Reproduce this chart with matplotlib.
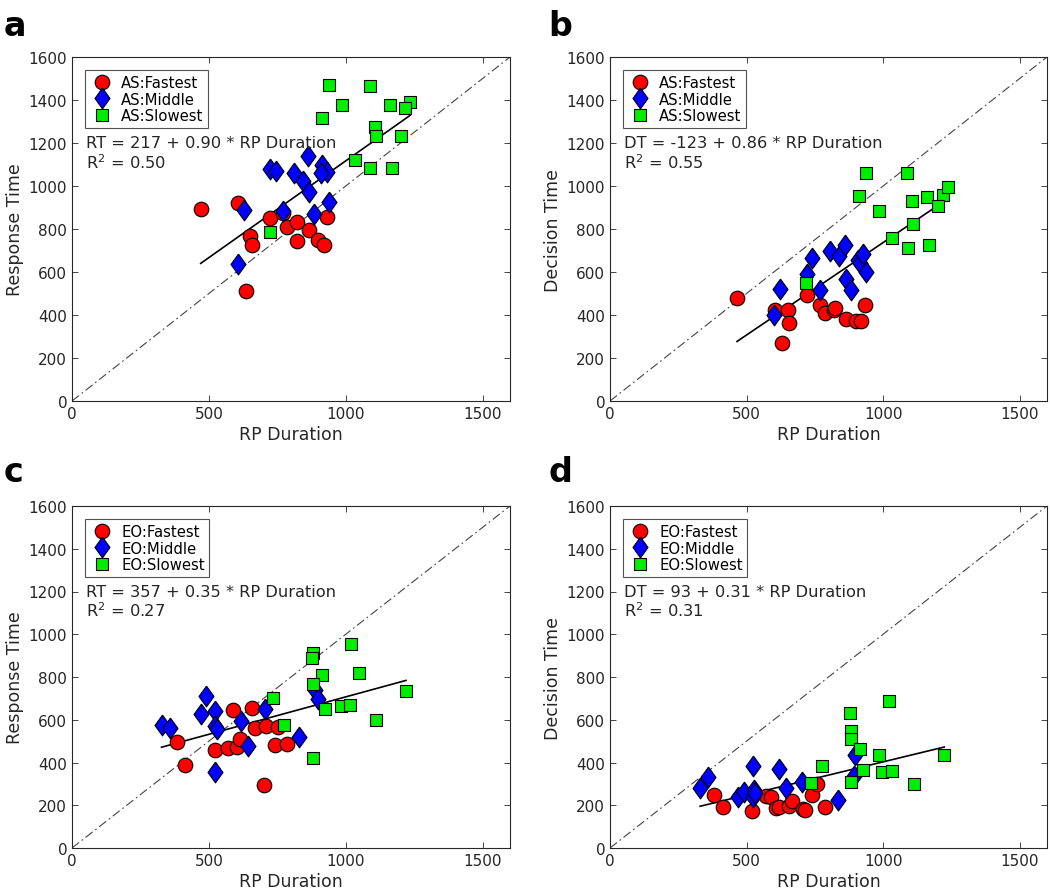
import matplotlib
matplotlib.use('Agg')
import matplotlib.pyplot as plt
import numpy as np

# panel a: AS, response time
a_fast_x = [470, 607, 651, 657, 724, 770, 787, 821, 821, 866, 900, 921, 933, 636]
a_fast_y = [892, 919, 768, 726, 849, 874, 807, 833, 742, 796, 748, 726, 854, 512]
a_mid_x = [724, 746, 811, 861, 914, 930, 908, 845, 867, 939, 885, 772, 627, 605]
a_mid_y = [1077, 1071, 1062, 1138, 1099, 1066, 1060, 1024, 973, 927, 872, 882, 888, 636]
a_slow_x = [939, 1090, 988, 1160, 1235, 1218, 914, 1107, 1111, 1202, 1034, 1090, 1168, 722]
a_slow_y = [1470, 1465, 1377, 1377, 1392, 1363, 1316, 1274, 1234, 1231, 1122, 1082, 1086, 788]

# panel b: AS, decision time
b_fast_x = [465, 603, 650, 655, 630, 723, 768, 786, 820, 822, 863, 901, 920, 932]
b_fast_y = [478, 424, 424, 365, 272, 494, 445, 411, 424, 432, 383, 372, 372, 447]
b_mid_x = [601, 624, 721, 741, 768, 807, 840, 859, 863, 883, 908, 916, 928, 936]
b_mid_y = [399, 523, 590, 667, 516, 700, 674, 725, 567, 516, 655, 641, 683, 598]
b_slow_x = [936, 1088, 911, 984, 1106, 1159, 1218, 1236, 1202, 1108, 1033, 1090, 1169, 719]
b_slow_y = [1062, 1062, 955, 882, 930, 950, 958, 997, 908, 823, 756, 710, 727, 548]

# panel c: EO, response time
c_fast_x = [383, 414, 521, 570, 603, 615, 587, 658, 667, 710, 754, 740, 785, 703]
c_fast_y = [496, 388, 460, 470, 473, 509, 647, 656, 561, 571, 566, 481, 488, 295]
c_mid_x = [327, 358, 490, 470, 524, 524, 530, 619, 704, 642, 831, 889, 898, 522]
c_mid_y = [574, 561, 710, 625, 639, 571, 555, 594, 648, 478, 519, 740, 698, 357]
c_slow_x = [879, 878, 1021, 914, 1047, 879, 736, 1220, 924, 982, 1015, 1109, 776, 882]
c_slow_y = [910, 887, 953, 809, 819, 767, 701, 733, 651, 664, 667, 598, 574, 419]

# panel d: EO, decision time
d_fast_x = [381, 415, 521, 570, 589, 606, 618, 656, 668, 707, 713, 741, 758, 786]
d_fast_y = [248, 191, 171, 243, 240, 189, 194, 197, 220, 183, 178, 248, 299, 191]
d_mid_x = [330, 358, 470, 491, 522, 528, 524, 530, 619, 644, 704, 835, 893, 898]
d_mid_y = [279, 332, 240, 260, 384, 271, 240, 256, 369, 279, 310, 225, 338, 434]
d_slow_x = [880, 1021, 883, 883, 916, 984, 1224, 777, 926, 995, 1032, 883, 1114, 737]
d_slow_y = [633, 687, 546, 509, 465, 437, 437, 383, 364, 357, 361, 310, 299, 302]

panels = [
    ('a', 'AS', 'Response Time', 'RT', 217, 0.90, 0.50,
     a_fast_x, a_fast_y, a_mid_x, a_mid_y, a_slow_x, a_slow_y),
    ('b', 'AS', 'Decision Time', 'DT', -123, 0.86, 0.55,
     b_fast_x, b_fast_y, b_mid_x, b_mid_y, b_slow_x, b_slow_y),
    ('c', 'EO', 'Response Time', 'RT', 357, 0.35, 0.27,
     c_fast_x, c_fast_y, c_mid_x, c_mid_y, c_slow_x, c_slow_y),
    ('d', 'EO', 'Decision Time', 'DT', 93, 0.31, 0.31,
     d_fast_x, d_fast_y, d_mid_x, d_mid_y, d_slow_x, d_slow_y),
]

# matlab-like diamond (a bit wider than mpl 'd')
diamond = [(0, 1), (0.72, 0), (0, -1), (-0.72, 0), (0, 1)]

W, H = 1050, 895
fig = plt.figure(figsize=(W / 100, H / 100), dpi=100)

# pixel boxes: left, right, top, bottom
boxes = [(72, 510, 58, 402), (610, 1047, 58, 402),
         (72, 510, 507, 849), (610, 1047, 507, 849)]
letter_pos = [(4, 36), (548, 36), (4, 482), (548, 482)]

for (letter, cond, ylabel, short, b0, b1, r2,
     fx, fy, mx, my, sx, sy), box, lp in zip(panels, boxes, letter_pos):
    l, r, t, b = box
    ax = fig.add_axes([l / W, 1 - b / H, (r - l) / W, (b - t) / H])

    ax.plot([0, 1600], [0, 1600], linestyle=(0, (8, 3, 1.5, 3)), color='#444444',
            lw=0.8, zorder=1)

    allx = fx + mx + sx
    xx = np.array([min(allx), max(allx)])
    ax.plot(xx, b0 + b1 * xx, color='black', lw=1.2, zorder=2)

    ax.plot(fx, fy, 'o', ms=10.5, mfc='red', mec='black', mew=0.8,
            ls='none', label=cond + ':Fastest', zorder=3)
    ax.plot(mx, my, marker=diamond, ms=15, mfc='blue', mec='black', mew=0.8,
            ls='none', label=cond + ':Middle', zorder=3)
    ax.plot(sx, sy, 's', ms=8, mfc='#00ee00', mec='black', mew=0.8,
            ls='none', label=cond + ':Slowest', zorder=3)

    ax.set_xlim(0, 1600)
    ax.set_ylim(0, 1600)
    ax.set_xticks([0, 500, 1000, 1500])
    ax.set_yticks(np.arange(0, 1601, 200))
    ax.tick_params(direction='in', top=True, right=True, labelsize=11,
                   length=4, width=0.6, colors='#262626', labelcolor='#262626')
    for sp in ax.spines.values():
        sp.set_color('#262626')
        sp.set_linewidth(0.8)
    ax.set_xlabel('RP Duration', fontsize=12.5, color='#262626', labelpad=3)
    ax.set_ylabel(ylabel, fontsize=12.5, color='#262626', labelpad=3)

    leg = ax.legend(loc='upper left', fontsize=10.7, frameon=True, fancybox=False,
                    borderaxespad=0.9, handletextpad=0.5, labelspacing=0.12,
                    borderpad=0.3, handlelength=1.6)
    leg.get_frame().set_edgecolor('#262626')
    leg.get_frame().set_linewidth(0.8)

    ax.text(0.033, 0.750, f'{short} = {b0} + {b1:.2f} * RP Duration',
            transform=ax.transAxes, fontsize=11.7, color='#262626', va='center')
    ax.text(0.033, 0.697, f'R$^2$ = {r2:.2f}',
            transform=ax.transAxes, fontsize=11.7, color='#262626', va='center')

    fig.text(lp[0] / W, 1 - lp[1] / H, letter, fontsize=24, fontweight='bold',
             ha='left', va='baseline')

fig.savefig('out.png', dpi=100)
